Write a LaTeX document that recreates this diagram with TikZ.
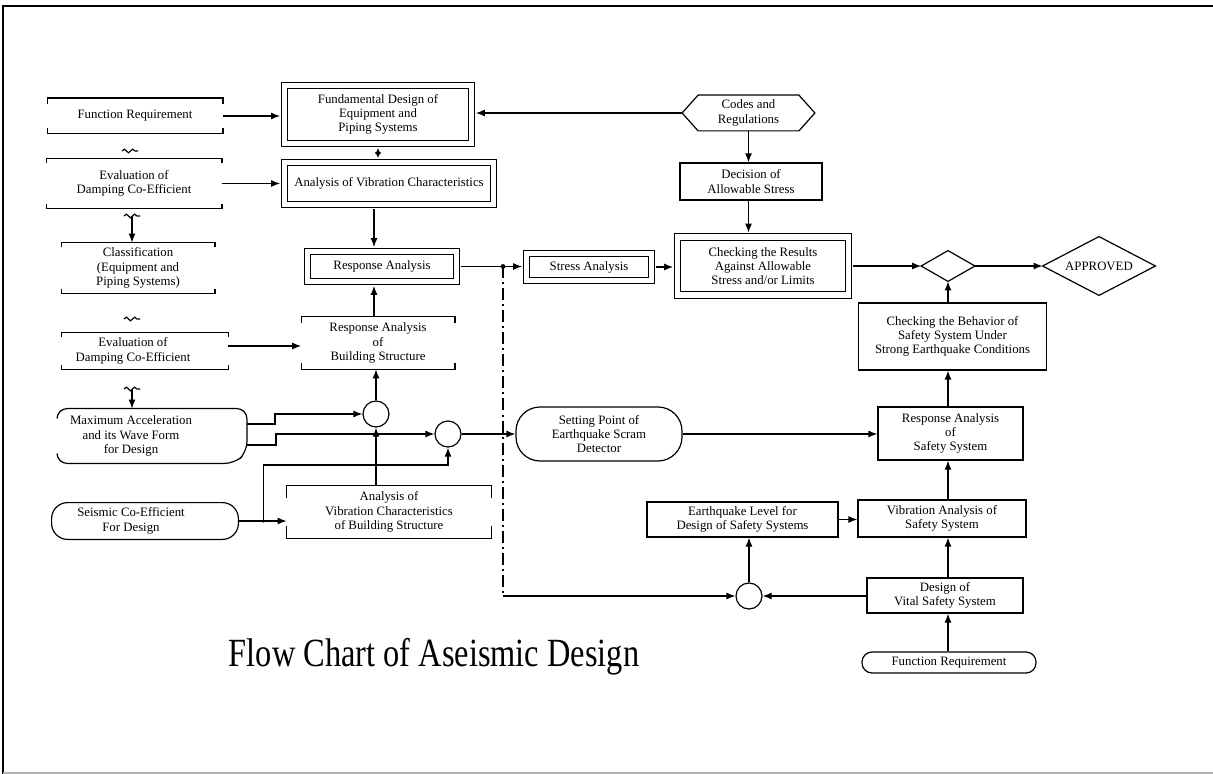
\documentclass[tikz,border=0pt]{standalone}
\usepackage{fontspec}
\setmainfont{Liberation Serif}
\newfontfamily\titlefont[FakeStretch=0.81]{Liberation Serif}
\usetikzlibrary{arrows.meta,calc,decorations.pathmorphing}
\begin{document}
\begin{tikzpicture}[x=0.5pt,y=-0.5pt,
  every node/.style={font=\fontsize{6.4}{7.15}\selectfont, align=center, inner sep=0pt},
  sz/.style 2 args={minimum width=#1*0.5pt, minimum height=#2*0.5pt},
  plain/.style={draw, line width=0.6pt},
  dbl/.style={draw, line width=0.6pt, double, double distance=2.6pt},
  arr/.style={line width=0.6pt, -{Latex[length=4.5pt,width=3.5pt]}},
  darr/.style={arr, shorten >=1.9pt},
  ln/.style={line width=0.6pt},
  circ/.style={draw, circle, line width=0.6pt, minimum size=13pt},
  squig/.style={line width=0.6pt, decorate, decoration={snake, amplitude=0.9pt, segment length=4pt}},
  dashdot/.style={line width=0.6pt, dash pattern=on 6pt off 2pt on 1pt off 2pt}
]
\useasboundingbox (0,0) rectangle (1213,774);
% frame
\draw[line width=1.2pt] (3,774) -- (3,6) -- (1213,6);
\draw[line width=1pt, gray!60] (3,772.5) -- (1213,772.5);

% ---------- left column ----------
\node[sz={175}{35}] (fr1) at (135,116) {Function Requirement};
\node[sz={175}{49}] (ev1) at (134,183.5) {Evaluation of\\Damping Co-Efficient};
\node[sz={153}{50}] (cls) at (138,268) {Classification\\(Equipment and\\Piping Systems)};
\node[sz={166}{36}] (ev2) at (145,351) {};
\node at ([xshift=-6pt]ev2.center) {Evaluation of\\Damping Co-Efficient};
\node[sz={189}{54}] (max) at (152,436) {};
\node at ([xshift=-10.5pt]max.center) {Maximum Acceleration\\and its Wave Form\\for Design};
\node[sz={186}{36}] (seis) at (145,521) {};
\node at ([xshift=-7pt]seis.center) {Seismic Co-Efficient\\For Design};

\draw[ln, rounded corners=5pt] ([yshift=-4pt]max.north west) -- (max.north west) -- (max.north east)
  -- ([yshift=-8pt]max.east) -- ([xshift=-6pt]max.south east) -- (max.south west) -- ([yshift=4pt]max.south west);
\draw[ln, rounded corners=8pt] (seis.north west) rectangle (seis.south east);

% ---------- middle column ----------
\node[dbl, sz={187}{58}] (fd) at (378,114.5) {Fundamental Design of\\Equipment and\\Piping Systems};
\node[dbl, sz={209}{42}] (avc) at (389,183.5) {Analysis of Vibration Characteristics};
\node[dbl, sz={149}{30}] (ra) at (382,266.5) {Response Analysis};
\node[sz={153}{52}] (rab) at (378,343) {Response Analysis\\of\\Building Structure};
\node[circ] (c1) at (376,414) {};
\node[circ] (c2) at (448,434) {};
\node[sz={204}{52}] (avcb) at (389,512) {Analysis of\\Vibration Characteristics\\of Building Structure};

\foreach \n/\h in {fr1/3pt,ev1/2pt,cls/2pt,ev2/2pt,rab/3pt,avcb/6pt}{
  \draw[ln] ([yshift=-\h]\n.north west) -- (\n.north west) -- (\n.north east) -- ([yshift=-\h]\n.north east);
  \draw[ln] ([yshift=\h]\n.south west) -- (\n.south west) -- (\n.south east) -- ([yshift=\h]\n.south east);
}

% ---------- centre ----------
\node[dbl, sz={125}{27}] (sa) at (589,267) {Stress Analysis};
\node[sz={166}{54}, draw, line width=0.6pt, rounded corners=12pt] (sp) at (599,434) {Setting Point of\\Earthquake Scram\\Detector};
\node[plain, sz={191}{35}] (el) at (742.5,519.5) {Earthquake Level for\\Design of Safety Systems};
\node[circ] (c3) at (749,596) {};

% ---------- right column ----------
\node[sz={132}{35}] (codes) at (748.5,113) {Codes and\\Regulations};
\draw[ln] ([xshift=8pt]codes.north west) -- ([xshift=-8pt]codes.north east) -- (codes.east)
  -- ([xshift=-8pt]codes.south east) -- ([xshift=8pt]codes.south west) -- (codes.west) -- cycle;
\node[plain, sz={142}{37}] (dec) at (751,181.5) {Decision of\\Allowable Stress};
\node[dbl, sz={171}{58}] (cr) at (763,266) {Checking the Results\\Against Allowable\\Stress and/or Limits};
\node[sz={53}{30}] (dia) at (948,266) {};
\draw[ln] (dia.west) -- (dia.north) -- (dia.east) -- (dia.south) -- cycle;
\node[sz={112}{58}] (app) at (1099,266) {APPROVED};
\draw[ln] (app.west) -- (app.north) -- (app.east) -- (app.south) -- cycle;
\node[plain, sz={188}{67}] (cb) at (952.5,336.5) {Checking the Behavior of\\Safety System Under\\Strong Earthquake Conditions};
\node[plain, sz={145}{53}] (rs) at (950.5,433.5) {Response Analysis\\of\\Safety System};
\node[plain, sz={168}{37}] (vs) at (942,518.5) {Vibration Analysis of\\Safety System};
\node[plain, sz={156}{35}] (dv) at (945,595.5) {Design of\\Vital Safety System};
\node[sz={174}{21}, draw, line width=0.6pt, rounded corners=5pt] (fr2) at (949,662.5) {Function Requirement};

% title
\node[font=\titlefont\fontsize{20}{24}\selectfont] (title) at (434,657) {Flow Chart of Aseismic Design};

% ---------- squiggles (left column breaks) ----------
\coordinate (s1) at (130,151);
\coordinate (s2) at (132,216);
\coordinate (s3) at (132,319);
\coordinate (s4) at (132,389);
\foreach \s in {s1,s2,s3,s4}{
  \draw[squig] ([xshift=-4pt]\s) -- ([xshift=4pt]\s);
}
\draw[arr] (s2) -- (s2 |- cls.north);
\draw[arr] (s4) -- (s4 |- max.north);

% ---------- connectors ----------
\draw[darr] (fr1.east) -- (fr1.east -| fd.west);
\draw[darr] (ev1.east) -- (ev1.east -| avc.west);
\draw[darr] (codes.west) -- (codes.west -| fd.east);
\draw[ln, shorten <=1.9pt, shorten >=1.9pt, {Latex[length=3pt,width=3pt]}-{Latex[length=3pt,width=3pt]}] (fd.south) -- (fd.south |- avc.north);
\draw[darr, shorten <=1.9pt] ([xshift=-4pt]ra.north |- avc.south) -- ([xshift=-4pt]ra.north);
\draw[darr] ([xshift=-2pt]rab.north) -- ([xshift=-2pt]rab.north |- ra.south);
\draw[arr] ([yshift=2.5pt]ev2.east) -- ([yshift=2.5pt]ev2.east -| rab.west);
\draw[arr] (c1.north) -- (c1.north |- rab.south);
\draw[arr] (c1.south |- avcb.north) -- (c1.south);
\draw[arr] ([yshift=6pt]max.east) -- ++(28,0) |- (c1.west);
\draw[arr] ([yshift=-4.5pt]max.east) -- ++(29,0) |- (c2.west);
\draw[arr] (seis.east) -- (seis.east -| avcb.west);
\draw[arr] ($(seis.east)+(25,0)$) -- ++(0,-56) -| (c2.south);
\fill ($(seis.east)+(25,0)$) circle (0.9pt);
\fill (c1.south |- 0,465) circle (0.9pt);
\draw[arr] (c2.east) -- (c2.east -| sp.west);

\coordinate (j) at (503,266.5);
\draw[ln, shorten <=1.9pt] (ra.east) -- (j);
\draw[arr, shorten >=1.9pt] (j) -- (j -| sa.west);
\fill (j) circle (1.2pt);
\draw[dashdot] (j) -- (j |- c3.west);
\draw[arr] (j |- c3.west) -- (c3.west);

\draw[darr, shorten <=1.9pt] (sa.east) -- (sa.east -| cr.west);
\draw[arr] (codes.south) -- (codes.south |- dec.north);
\draw[darr] (dec.south -| codes.south) -- (codes.south |- cr.north);
\draw[arr, shorten <=1.9pt] (cr.east) -- (dia.west);
\draw[arr] (dia.east) -- (app.west);
\draw[arr] (dia.south |- cb.north) -- (dia.south);
\draw[arr] (dia.south |- rs.north) -- (dia.south |- cb.south);
\draw[arr] (sp.east) -- (sp.east -| rs.west);
\draw[arr] (dia.south |- vs.north) -- (dia.south |- rs.south);
\draw[arr] (el.east) -- (el.east -| vs.west);
\draw[arr] (dia.south |- dv.north) -- (dia.south |- vs.south);
\draw[arr] (dia.south |- fr2.north) -- (dia.south |- dv.south);
\draw[arr] (dv.west |- c3.east) -- (c3.east);
\draw[arr] (c3.north) -- (c3.north |- el.south);
\end{tikzpicture}
\end{document}
